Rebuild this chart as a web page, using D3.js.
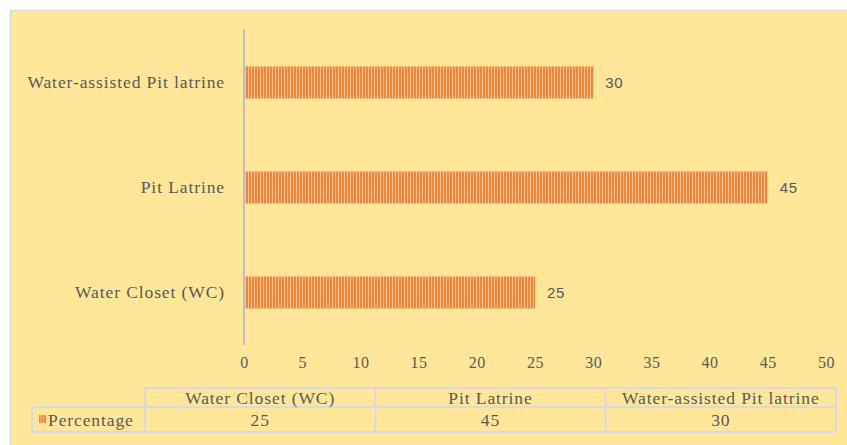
<!DOCTYPE html>
<html>
<head>
<meta charset="utf-8">
<script src="https://cdn.jsdelivr.net/npm/d3@7"></script>
<style>
  html, body { margin: 0; padding: 0; background: #ffffff; }
  svg { display: block; }
</style>
</head>
<body>
<svg id="chart" width="847" height="445"></svg>
<script>
// Sanitation facility types and their share (%)
const categories = ["Water Closet (WC)", "Pit Latrine", "Water-assisted Pit latrine"];
const values = [25, 45, 30];
const seriesName = "Percentage";
const xTicks = [0, 5, 10, 15, 20, 25, 30, 35, 40, 45, 50];

const W = 847, H = 445;
const svg = d3.select("#chart");
const serif = "'Liberation Serif', 'Times New Roman', serif";
const textColor = "#595959";

// Striped fill for the bars
const defs = svg.append("defs");
const pat = defs.append("pattern")
  .attr("id", "stripes")
  .attr("patternUnits", "userSpaceOnUse")
  .attr("width", 3).attr("height", 10);
pat.append("rect").attr("width", 3).attr("height", 10).attr("fill", "#F7C193");
pat.append("rect").attr("width", 2).attr("height", 10).attr("fill", "#EF8838");

// Chart area background
svg.append("rect")
  .attr("x", 10.5).attr("y", 10.5)
  .attr("width", W + 20).attr("height", H + 20)
  .attr("fill", "#FFE699")
  .attr("stroke", "#D9D9D9").attr("stroke-width", 1.5);

const plot = { left: 244, right: 826, top: 30, bottom: 345 };

const x = d3.scaleLinear().domain([0, 50]).range([plot.left, plot.right]);
// Reversed so the first category sits at the bottom
const y = d3.scaleBand()
  .domain(categories.slice().reverse())
  .range([plot.top, plot.bottom])
  .paddingInner(0.695)
  .paddingOuter(0.3475);

const rows = categories.map((c, i) => ({ c, v: values[i] }));

// Bars
svg.append("g").selectAll("rect")
  .data(rows)
  .join("rect")
  .attr("x", x(0))
  .attr("y", d => y(d.c))
  .attr("width", d => x(d.v) - x(0))
  .attr("height", y.bandwidth())
  .attr("fill", "url(#stripes)");

// Value labels
svg.append("g").selectAll("text")
  .data(rows)
  .join("text")
  .attr("x", d => x(d.v) + 12)
  .attr("y", d => y(d.c) + y.bandwidth() / 2)
  .attr("dy", "0.35em")
  .attr("font-family", "'Liberation Sans', Arial, sans-serif")
  .attr("font-size", 15)
  .attr("letter-spacing", 0.6)
  .attr("fill", textColor)
  .text(d => d.v);

// Category axis (vertical line at zero)
const yAxis = svg.append("g")
  .attr("transform", `translate(${plot.left},0)`)
  .call(d3.axisLeft(y).tickSize(0).tickPadding(19));
yAxis.select(".domain")
  .attr("stroke", "#BFBFBF").attr("stroke-width", 2)
  .attr("d", `M0,${plot.top - 1}V${plot.bottom}`);
yAxis.selectAll("text")
  .attr("font-family", serif)
  .attr("font-size", 17.5)
  .attr("letter-spacing", 0.9)
  .attr("fill", textColor);

// Value axis (labels only)
const xAxis = svg.append("g")
  .attr("transform", `translate(0,${plot.bottom + 9})`)
  .call(d3.axisBottom(x).tickValues(xTicks).tickSize(0).tickPadding(3));
xAxis.select(".domain").remove();
xAxis.selectAll("text")
  .attr("font-family", serif)
  .attr("font-size", 16)
  .attr("letter-spacing", 0.5)
  .attr("fill", textColor);

// Data table below the axis
const tbl = { labelLeft: 32, colLeft: 145, right: 836, top: 388, mid: 407, bottom: 432 };
const colX = d3.scaleBand()
  .domain(categories)
  .range([tbl.colLeft, tbl.right]);
const tg = svg.append("g");
const lineColor = "#D6D9E3";

const lines = [
  [tbl.colLeft, tbl.top, tbl.right, tbl.top],
  [tbl.labelLeft, tbl.mid, tbl.right, tbl.mid],
  [tbl.labelLeft, tbl.bottom, tbl.right, tbl.bottom],
  [tbl.labelLeft, tbl.mid, tbl.labelLeft, tbl.bottom],
  [tbl.right, tbl.top, tbl.right, tbl.bottom]
];
categories.forEach(c => lines.push([colX(c), tbl.top, colX(c), tbl.bottom]));
tg.selectAll("line").data(lines).join("line")
  .attr("x1", d => d[0]).attr("y1", d => d[1])
  .attr("x2", d => d[2]).attr("y2", d => d[3])
  .attr("stroke", lineColor).attr("stroke-width", 2);

tg.selectAll("text.head").data(categories).join("text")
  .attr("class", "head")
  .attr("x", c => colX(c) + colX.bandwidth() / 2)
  .attr("y", (tbl.top + tbl.mid) / 2)
  .attr("dy", "0.35em")
  .attr("text-anchor", "middle")
  .attr("font-family", serif).attr("font-size", 17.5)
  .attr("letter-spacing", 0.9)
  .attr("fill", textColor)
  .text(c => c);

tg.selectAll("text.val").data(rows).join("text")
  .attr("class", "val")
  .attr("x", d => colX(d.c) + colX.bandwidth() / 2)
  .attr("y", (tbl.mid + tbl.bottom) / 2)
  .attr("dy", "0.35em")
  .attr("text-anchor", "middle")
  .attr("font-family", serif).attr("font-size", 17.5)
  .attr("letter-spacing", 0.9)
  .attr("fill", textColor)
  .text(d => d.v);

// Legend key: small striped square
const key = tg.append("g").attr("transform", "translate(39,415)");
key.append("rect").attr("width", 7).attr("height", 8).attr("fill", "#EE8A3E");
key.selectAll("line.k").data([2, 4.5]).join("line")
  .attr("class", "k")
  .attr("x1", d => d).attr("x2", d => d)
  .attr("y1", 0).attr("y2", 8)
  .attr("stroke", "#F6BC8C").attr("stroke-width", 1);
tg.append("text")
  .attr("x", 48)
  .attr("y", (tbl.mid + tbl.bottom) / 2)
  .attr("dy", "0.35em")
  .attr("font-family", serif).attr("font-size", 17.5)
  .attr("letter-spacing", 0.9)
  .attr("fill", textColor)
  .text(seriesName);
</script>
</body>
</html>
